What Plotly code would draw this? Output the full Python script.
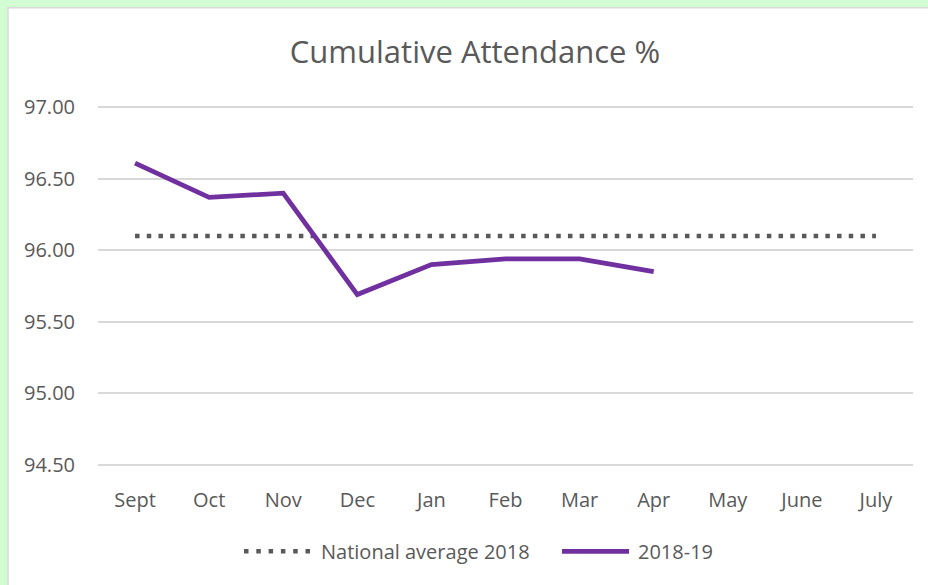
import plotly.graph_objects as go

months = ["Sept", "Oct", "Nov", "Dec", "Jan", "Feb", "Mar", "Apr", "May", "June", "July"]
national_avg = [96.10] * 11
attendance_2018_19 = [96.61, 96.37, 96.40, 95.69, 95.90, 95.94, 95.94, 95.85]
yticks = [94.5, 95.0, 95.5, 96.0, 96.5, 97.0]
series_names = ["National average 2018", "2018-19"]

FONT = "Open Sans"
TXT = "#595959"
GREY_DOT = "#595959"
PURPLE = "#7030A0"
DOT_DASH = "4.5px,7.2px"

W, H = 928, 585
Y_LO, Y_HI = 94.49, 97.01
pix_per_unit = (465 - 107) / 2.5
L, R = 98, 15
T = 107 - (Y_HI - 97.0) * pix_per_unit
B = (H - 465) - (94.5 - Y_LO) * pix_per_unit
pw, ph = W - L - R, H - T - B

def px_x(x):
    return (x - L) / pw

def px_y(y):
    return (H - B - y) / ph

fig = go.Figure()
fig.add_trace(go.Scatter(
    x=months, y=national_avg, mode="lines", name=series_names[0],
    line=dict(color=GREY_DOT, width=4.5, dash=DOT_DASH), showlegend=False,
))
fig.add_trace(go.Scatter(
    x=months[:len(attendance_2018_19)], y=attendance_2018_19, mode="lines", name=series_names[1],
    line=dict(color=PURPLE, width=4.8), showlegend=False,
))

# white chart area with light border
fig.add_shape(type="rect", xref="paper", yref="paper",
              x0=px_x(8), x1=px_x(940), y0=px_y(600), y1=px_y(7),
              fillcolor="white", line=dict(color="#d9d9d9", width=1.5), layer="below")

# manual legend
ly = px_y(552)
fig.add_shape(type="line", xref="paper", yref="paper", x0=px_x(244), x1=px_x(310), y0=ly, y1=ly,
              line=dict(color=GREY_DOT, width=4.5, dash="4.5px,7.8px"))
fig.add_annotation(xref="paper", yref="paper", x=px_x(319), y=ly, xanchor="left", yanchor="middle",
                   text=series_names[0], showarrow=False, font=dict(family=FONT, size=20, color=TXT))
fig.add_shape(type="line", xref="paper", yref="paper", x0=px_x(562), x1=px_x(629), y0=ly, y1=ly,
              line=dict(color=PURPLE, width=4.8))
fig.add_annotation(xref="paper", yref="paper", x=px_x(636), y=ly, xanchor="left", yanchor="middle",
                   text=series_names[1], showarrow=False, font=dict(family=FONT, size=20, color=TXT))

fig.update_layout(
    width=W, height=H,
    margin=dict(l=L, r=R, t=T, b=B, pad=0),
    paper_bgcolor="#d2fdd2",
    plot_bgcolor="rgba(0,0,0,0)",
    title=dict(text="Cumulative Attendance %", xref="container", x=475 / W, xanchor="center",
               yref="container", y=1 - 52 / H, yanchor="middle",
               font=dict(family=FONT, size=31, color=TXT)),
    font=dict(family=FONT, color=TXT),
    showlegend=False,
    xaxis=dict(categoryorder="array", categoryarray=months, showgrid=False,
               showline=False, zeroline=False, ticks="", ticklabelstandoff=20,
               tickfont=dict(family=FONT, size=20, color=TXT),
               range=[-0.5, 10.5], fixedrange=True),
    yaxis=dict(range=[Y_LO, Y_HI], tickvals=yticks, ticktext=[f"{v:.2f}" for v in yticks],
               showgrid=True, gridcolor="#d9d9d9", gridwidth=1.5, zeroline=False,
               showline=False, ticks="", ticklabelstandoff=22,
               tickfont=dict(family=FONT, size=20, color=TXT)),
)

fig.write_html("out.html", config={"displayModeBar": False},
               post_script="document.body.style.margin='0';document.body.style.background='#d2fdd2';")
